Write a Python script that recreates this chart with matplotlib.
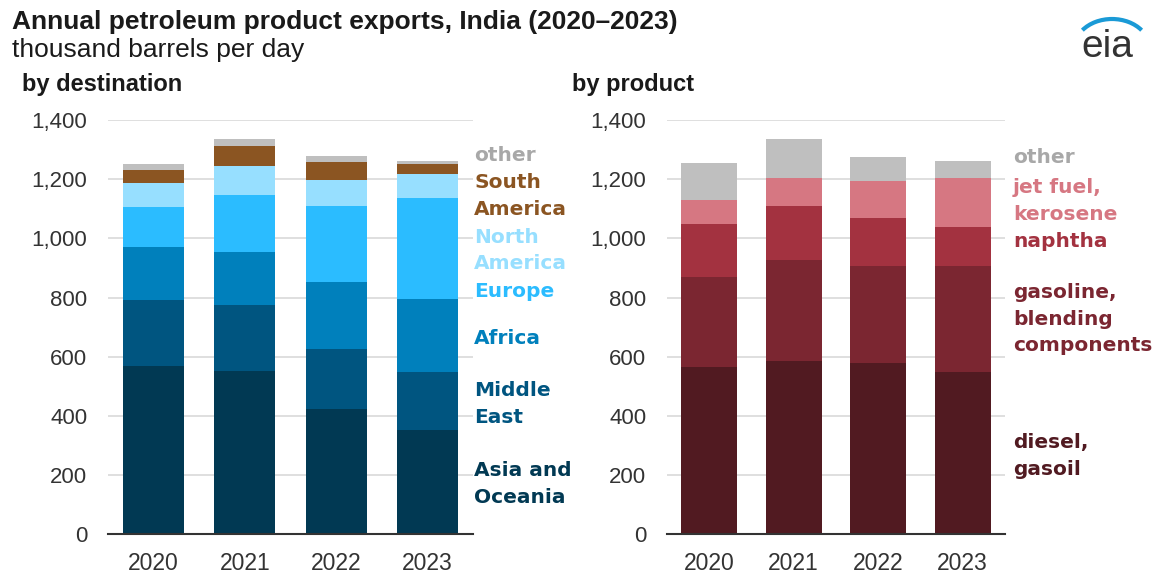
import matplotlib.pyplot as plt
from matplotlib.patches import Arc
import numpy as np

# annual petroleum product exports, thousand barrels per day
years = ['2020', '2021', '2022', '2023']

# by destination
asia_oceania = [569, 553, 422, 353]
middle_east = [222, 222, 205, 194]
africa = [180, 179, 224, 249]
europe = [134, 194, 260, 342]
north_america = [81, 98, 86, 81]
south_america = [44, 65, 60, 32]
dest_other = [21, 26, 21, 10]

# by product
diesel_gasoil = [566, 587, 580, 549]
gasoline = [303, 341, 327, 358]
naphtha = [179, 180, 163, 131]
jet_kerosene = [82, 97, 125, 167]
prod_other = [124, 131, 81, 55]

dest_series = [asia_oceania, middle_east, africa, europe, north_america, south_america, dest_other]
dest_names = ['Asia and\nOceania', 'Middle\nEast', 'Africa', 'Europe', 'North\nAmerica', 'South\nAmerica', 'other']
dest_colors = ['#013953', '#005580', '#0080BC', '#2BBCFF', '#97DFFF', '#8B5522', '#BFBFBF']
dest_text_colors = ['#013953', '#005580', '#0080BC', '#2BBCFF', '#97DFFF', '#8B5522', '#A8A8A8']
dest_label_y = [170, 440, 663, 819, 959, 1143, 1281]

prod_series = [diesel_gasoil, gasoline, naphtha, jet_kerosene, prod_other]
prod_names = ['diesel,\ngasoil', 'gasoline,\nblending\ncomponents', 'naphtha', 'jet fuel,\nkerosene', 'other']
prod_colors = ['#511A21', '#7B2631', '#A33240', '#D67782', '#BFBFBF']
prod_text_colors = ['#511A21', '#7B2631', '#A33240', '#D67782', '#A8A8A8']
prod_label_y = [264, 726, 990, 1127, 1275]

plt.rcParams['font.family'] = ['Liberation Sans', 'DejaVu Sans']

fig = plt.figure(figsize=(11.59, 5.77), dpi=100)
ax1 = fig.add_axes([0.0932, 0.074, 0.315, 0.718])
ax2 = fig.add_axes([0.5755, 0.074, 0.2916, 0.718])


def draw_panel(ax, series, colors, names, text_colors, label_y, width, label_x):
    x = np.arange(len(years))
    bottom = np.zeros(len(years))
    for vals, c in zip(series, colors):
        ax.bar(x, vals, width=width, bottom=bottom, color=c, zorder=3)
        bottom += np.array(vals)
    ax.set_xlim(-0.5, 3.5)
    ax.set_ylim(0, 1400)
    ax.set_yticks(range(0, 1401, 200))
    ax.set_yticklabels([f'{v:,}' for v in range(0, 1401, 200)])
    ax.set_xticks(x)
    ax.set_xticklabels(years)
    ax.grid(axis='y', color='#D9D9D9', linewidth=1.2, zorder=0)
    for s in ['top', 'right', 'left']:
        ax.spines[s].set_visible(False)
    ax.spines['bottom'].set_color('#333333')
    ax.spines['bottom'].set_linewidth(1.5)
    ax.spines['bottom'].set_zorder(4)
    ax.tick_params(axis='y', length=0, pad=15, labelsize=16, labelcolor='#333333')
    ax.tick_params(axis='x', length=0, pad=13, labelsize=16.5, labelcolor='#333333')
    for name, tc, ly in zip(names, text_colors, label_y):
        ax.text(label_x, ly, name, transform=ax.get_yaxis_transform(), color=tc,
                fontsize=14.5, fontweight='bold', family='DejaVu Sans',
                va='center', ha='left', linespacing=1.5, clip_on=False)


draw_panel(ax1, dest_series, dest_colors, dest_names, dest_text_colors, dest_label_y, 0.667, 1.003)
draw_panel(ax2, prod_series, prod_colors, prod_names, prod_text_colors, prod_label_y, 0.66, 1.024)

fig.text(0.0104, 0.962, 'Annual petroleum product exports, India (2020\u20132023)',
         fontsize=19, fontweight='bold', color='#1A1A1A', va='center')
fig.text(0.0104, 0.913, 'thousand barrels per day', fontsize=19, color='#1A1A1A', va='center')
fig.text(0.019, 0.853, 'by destination', fontsize=17, fontweight='bold', color='#1A1A1A', va='center')
fig.text(0.4935, 0.853, 'by product', fontsize=17, fontweight='bold', color='#1A1A1A', va='center')

# eia logo, drawn in a pixel-scaled corner axes
logo_ax = fig.add_axes([1060 / 1159, 1 - 80 / 577, 99 / 1159, 80 / 577])
logo_ax.set_xlim(1060, 1159)
logo_ax.set_ylim(80, 0)
logo_ax.axis('off')
logo_ax.text(1107, 47, 'eia', fontsize=28, color='#333333', ha='center', va='center')
logo_ax.add_patch(Arc((1112, 48), 75, 58, theta1=211, theta2=329, color='#1A9AD6', linewidth=3))

fig.savefig('out.png', dpi=100)
